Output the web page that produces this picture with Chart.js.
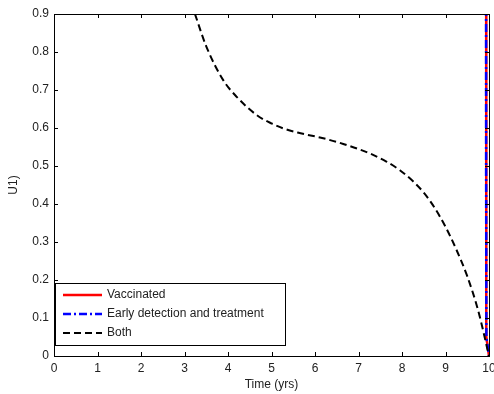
<!DOCTYPE html>
<html lang="en">
<head>
  <meta charset="UTF-8">
  <title>U1 over time</title>
  <script src="https://cdn.jsdelivr.net/npm/chart.js"></script>
  <style>
    html, body { margin: 0; padding: 0; background: #fff; }
    #wrap { width: 494px; height: 394px; }
  </style>
</head>
<body>
  <div id="wrap"><canvas id="grafik" width="494" height="394"></canvas></div>

  <script>
    // time axis (yrs) and U1 values for each strategy
    const vaccTime = [9.935, 9.935, 9.94, 10];
    const vaccU = [1.0, 0.5, 0.05, 0];
    const earlyTime = [9.933, 9.934, 9.94, 10];
    const earlyU = [1.0, 0.5, 0.05, 0];
    const bothTime = [3.24, 3.5, 3.89, 4.2, 4.66, 5.0, 5.27, 5.6, 6.19, 6.65, 7.26, 7.65, 7.95, 8.26, 8.5, 8.75, 9.0, 9.25, 9.5, 9.75, 10];
    const bothU = [0.9, 0.815, 0.726, 0.682, 0.634, 0.612, 0.599, 0.588, 0.573, 0.558, 0.533, 0.511, 0.489, 0.459, 0.43, 0.39, 0.34, 0.28, 0.21, 0.12, 0];
    const xTicks = [0, 1, 2, 3, 4, 5, 6, 7, 8, 9, 10];
    const yTicks = [0, 0.1, 0.2, 0.3, 0.4, 0.5, 0.6, 0.7, 0.8, 0.9];
    const seriesNames = ['Vaccinated', 'Early detection and treatment', 'Both'];

    const FONT = 'Liberation Sans, Arial, Helvetica, sans-serif';
    const pts = (xs, ys) => xs.map((x, i) => ({ x: x, y: ys[i] }));

    // box + inward ticks on all four sides
    const boxTicks = {
      id: 'boxTicks',
      afterDatasetsDraw(chart) {
        const { ctx, chartArea: a, scales } = chart;
        ctx.save();
        ctx.strokeStyle = '#000';
        ctx.lineWidth = 1;
        ctx.beginPath();
        xTicks.forEach(v => {
          const px = Math.round(scales.x.getPixelForValue(v)) + 0.5;
          ctx.moveTo(px, a.bottom); ctx.lineTo(px, a.bottom - 4);
          ctx.moveTo(px, a.top); ctx.lineTo(px, a.top + 4);
        });
        yTicks.forEach(v => {
          const py = Math.round(scales.y.getPixelForValue(v)) + 0.5;
          ctx.moveTo(a.left, py); ctx.lineTo(a.left + 4, py);
          ctx.moveTo(a.right, py); ctx.lineTo(a.right - 4, py);
        });
        ctx.stroke();
        ctx.strokeRect(Math.round(a.left) + 0.5, Math.round(a.top) + 0.5,
          Math.round(a.right - a.left), Math.round(a.bottom - a.top));
        ctx.restore();
      }
    };

    // legend box in the lower left of the plot
    const boxLegend = {
      id: 'boxLegend',
      afterDraw(chart) {
        const { ctx, chartArea: a } = chart;
        const x0 = a.left + 1, y0 = 283, w = 230, h = 62;
        ctx.save();
        ctx.fillStyle = '#fff';
        ctx.fillRect(x0, y0, w, h);
        ctx.strokeStyle = '#000';
        ctx.lineWidth = 1;
        ctx.setLineDash([]);
        ctx.strokeRect(x0 + 0.5, y0 + 0.5, w, h);
        ctx.font = '12px ' + FONT;
        ctx.textBaseline = 'middle';
        chart.data.datasets.forEach((ds, i) => {
          const y = y0 + 12 + i * 19;
          ctx.strokeStyle = ds.borderColor;
          ctx.lineWidth = ds.borderWidth;
          ctx.setLineDash(ds.borderDash || []);
          ctx.beginPath();
          ctx.moveTo(63, y); ctx.lineTo(102, y);
          ctx.stroke();
          ctx.fillStyle = '#222';
          ctx.fillText(ds.label, 107, y);
        });
        ctx.restore();
      }
    };

    new Chart(document.getElementById('grafik'), {
      type: 'line',
      data: {
        datasets: [
          // higher order is painted first, so blue dash-dot sits over the red line
          { label: seriesNames[0], data: pts(vaccTime, vaccU), borderColor: '#ff0000', borderWidth: 2.5, order: 3 },
          { label: seriesNames[1], data: pts(earlyTime, earlyU), borderColor: '#0000ff', borderWidth: 2.5, borderDash: [8, 3, 2, 3], order: 2 },
          { label: seriesNames[2], data: pts(bothTime, bothU), borderColor: '#000000', borderWidth: 2, borderDash: [7, 4], cubicInterpolationMode: 'monotone', order: 1 }
        ]
      },
      options: {
        responsive: false,
        animation: false,
        layout: { padding: { top: 14, right: 5, left: 0, bottom: 0 } },
        elements: { point: { radius: 0 } },
        plugins: { legend: { display: false }, tooltip: { enabled: false } },
        scales: {
          x: {
            type: 'linear', min: 0, max: 10,
            afterFit: s => { s.height = 38; s.paddingRight = 0; s.paddingLeft = 0; },
            afterBuildTicks: s => { s.ticks = xTicks.map(v => ({ value: v })); },
            grid: { display: false, drawTicks: false },
            border: { display: false },
            ticks: { color: '#222', font: { family: FONT, size: 12 }, padding: 5, maxRotation: 0 },
            title: { display: true, text: 'Time (yrs)', color: '#222', font: { family: FONT, size: 12 }, padding: { top: 0, bottom: 2 } }
          },
          y: {
            type: 'linear', min: 0, max: 0.9,
            afterFit: s => { s.width = 54; s.paddingTop = 0; s.paddingBottom = 0; },
            afterBuildTicks: s => { s.ticks = yTicks.map(v => ({ value: v })); },
            grid: { display: false, drawTicks: false },
            border: { display: false },
            ticks: { color: '#222', font: { family: FONT, size: 12 }, padding: 5, callback: v => String(Math.round(v * 10) / 10) },
            title: { display: true, text: 'U1)', color: '#222', font: { family: FONT, size: 12 }, padding: { top: 6, bottom: 4 } }
          }
        }
      },
      plugins: [boxTicks, boxLegend]
    });
  </script>
</body>
</html>
